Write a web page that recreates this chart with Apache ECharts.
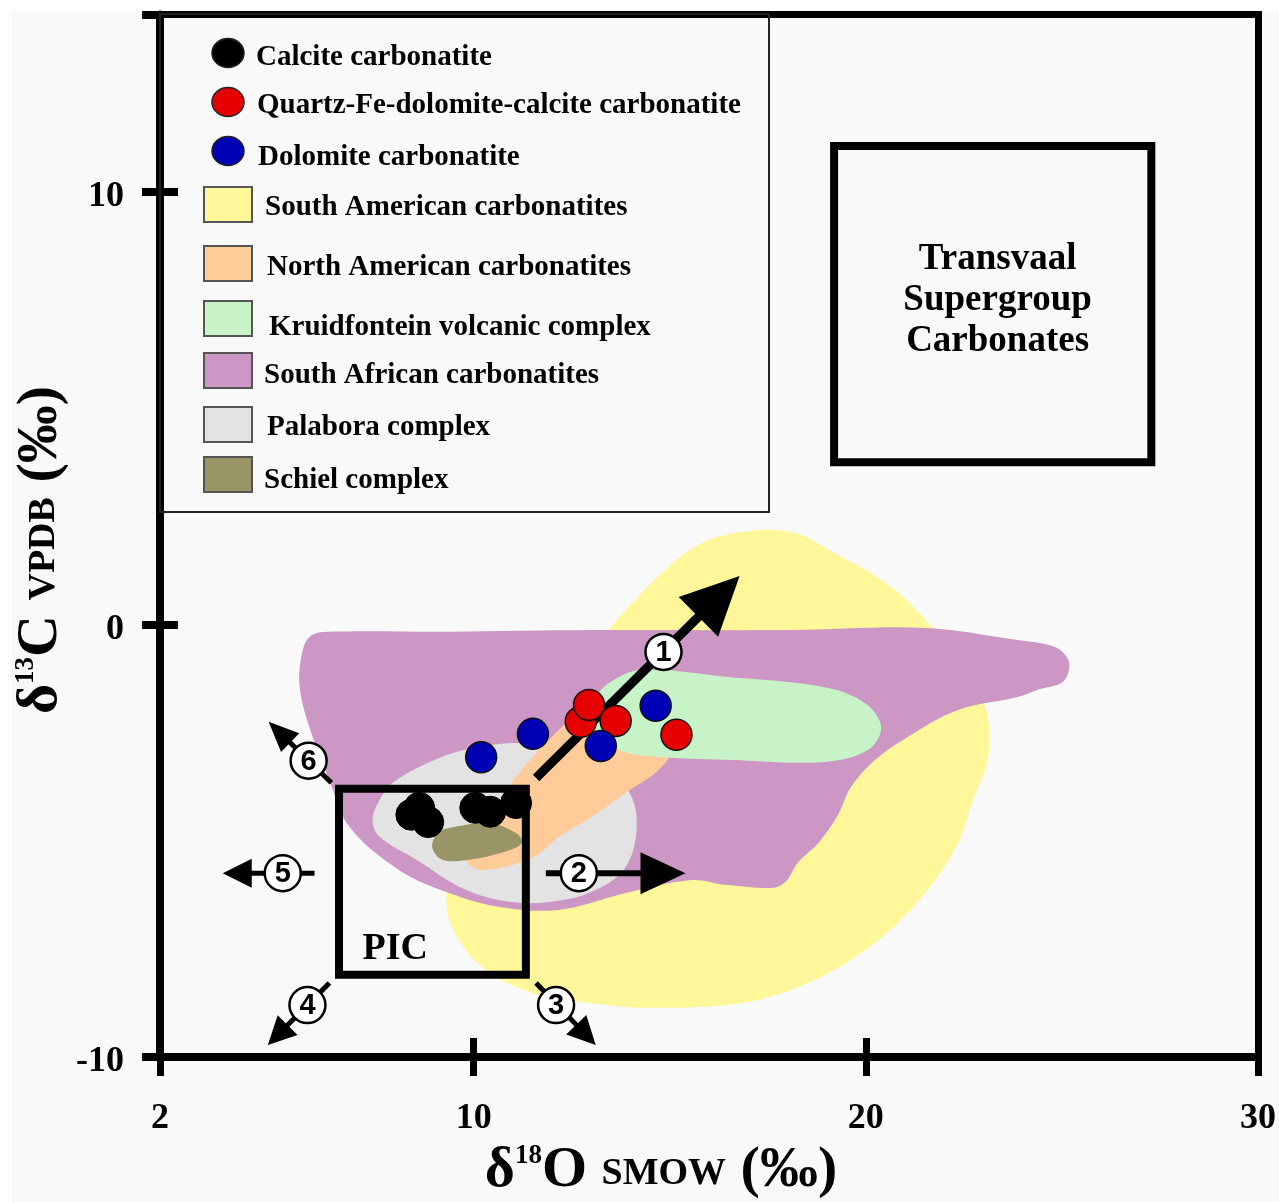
<!DOCTYPE html>
<html><head><meta charset="utf-8">
<script src="https://cdn.jsdelivr.net/npm/echarts@6/dist/echarts.min.js"></script>
<style>html,body{margin:0;padding:0;background:#fff;}#c{width:1279px;height:1202px;}</style>
</head><body><div id="c"></div>
<script>
// ---------- data ----------
const xTickValues = [2, 10, 20, 30];
const yTickValues = [-10, 0, 10];
const xRange = [2, 30];
const yRange = [-10, 14.1];

const calciteCarbonatite = [[8.41,-4.40],[8.61,-4.24],[8.84,-4.57],[10.04,-4.24],[10.42,-4.33],[11.08,-4.13]];
const quartzFeDolomiteCalcite = [[12.73,-2.25],[12.94,-1.86],[13.62,-2.23],[15.17,-2.55]];
const dolomiteCarbonatite = [[10.19,-3.07],[11.51,-2.53],[13.24,-2.81],[14.64,-1.88]];

const southAmerican = [[13.44,-0.13],[14.97,1.33],[15.99,1.95],[17.26,2.18],[18.28,2.09],[18.96,1.77],[20.64,0.87],[21.91,-0.29],[22.73,-1.28],[23.11,-2.14],[23.11,-3.13],[22.73,-4.06],[22.35,-5.05],[21.51,-6.21],[20.24,-7.36],[18.53,-8.29],[16.83,-8.75],[14.46,-8.86],[12.94,-8.75],[11.49,-8.52],[10.21,-7.92],[9.45,-7.00],[9.30,-6.21],[9.50,-5.44],[10.65,-3.83],[12.17,-1.75]];
const southAfrican = [[5.81,-0.29],[6.25,-0.17],[9.38,-0.17],[13.01,-0.13],[18.10,-0.13],[21.51,-0.08],[23.87,-0.36],[24.76,-0.50],[25.09,-0.71],[25.19,-0.98],[25.02,-1.33],[24.38,-1.51],[23.87,-1.68],[22.35,-1.98],[21.07,-2.60],[20.24,-3.13],[19.62,-3.76],[19.29,-4.40],[18.79,-5.05],[18.28,-5.49],[17.95,-5.95],[17.64,-6.09],[16.42,-6.02],[15.56,-5.91],[13.88,-6.21],[12.17,-6.60],[10.65,-6.53],[9.38,-6.21],[8.10,-5.68],[6.83,-4.68],[6.32,-3.60],[5.81,-2.37],[5.56,-1.44],[5.61,-0.71]];
const kruidfontein = [[13.44,-1.36],[14.28,-1.05],[16.42,-1.21],[18.96,-1.45],[19.98,-1.82],[20.39,-2.37],[20.06,-2.90],[18.96,-3.18],[16.42,-3.13],[14.72,-3.06],[13.70,-2.90],[12.94,-2.21],[13.06,-1.75]];
const northAmerican = [[9.81,-5.44],[10.14,-4.87],[10.82,-3.83],[11.99,-2.60],[12.94,-1.86],[13.95,-1.40],[14.72,-1.28],[15.30,-1.75],[15.22,-2.67],[14.72,-3.36],[13.88,-3.89],[13.01,-4.45],[12.17,-4.91],[11.49,-5.40],[10.21,-5.68]];
const palabora = [[7.42,-4.52],[7.60,-4.06],[7.93,-3.66],[9.20,-3.06],[10.47,-2.78],[11.66,-2.78],[12.94,-3.13],[13.83,-3.71],[14.13,-4.29],[14.10,-5.10],[13.80,-5.70],[13.20,-6.10],[12.35,-6.36],[11.08,-6.43],[9.81,-6.14],[8.54,-5.44],[7.60,-4.91]];
const schiel = [[8.94,-5.14],[9.12,-4.80],[9.63,-4.66],[10.39,-4.59],[11.08,-4.82],[11.23,-5.05],[10.77,-5.26],[9.88,-5.44],[9.20,-5.44]];

const picBox = [[6.565,-3.80],[11.33,-8.10]];
const transvaalBox = [[19.19,11.06],[27.28,3.75]];
const picLabelAt = [8.0,-7.50];
const transvaalLabelAt = [23.36,7.48];

const trendLabels = ['1','2','3','4','5','6'];
const trendStart = [[11.59,-3.55],[11.84,-5.75],[11.59,-8.29],[6.32,-8.29],[5.94,-5.75],[6.37,-3.66]];
const trendMark = [[14.84,-0.636],[12.68,-5.75],[12.10,-8.80],[5.76,-8.80],[5.13,-5.75],[5.79,-3.15]];
const trendTip = [[16.78,1.12],[15.40,-5.75],[13.11,-9.72],[4.75,-9.72],[3.60,-5.75],[4.77,-2.25]];

// ---------- styles ----------
const SERIF = '"Liberation Serif","Times New Roman",serif';
const SANS = '"Liberation Sans",Arial,sans-serif';
const headLen = [58,45,28,28,29,30];
const headHalf = [28,21,14,14,14.5,13];
const shaftW = [9,6,5,5,5,5];

function regionSeries(name, pts, color) {
  return {
    type: 'custom', name: name, silent: true, data: [pts[0]],
    renderItem: function (params, api) {
      return { type: 'polygon', shape: { points: pts.map(function (p) { return api.coord(p); }), smooth: 0.35 },
        style: { fill: color, stroke: null } };
    }
  };
}
function boxSeries(name, box, label, at, font, lh) {
  return {
    type: 'custom', name: name, silent: true, data: [box[0]],
    renderItem: function (params, api) {
      const a = api.coord(box[0]), b = api.coord(box[1]), c = api.coord(at);
      return { type: 'group', children: [
        { type: 'rect', shape: { x: Math.min(a[0],b[0]), y: Math.min(a[1],b[1]), width: Math.abs(b[0]-a[0]), height: Math.abs(b[1]-a[1]) },
          style: { fill: 'none', stroke: '#000', lineWidth: 8 } },
        { type: 'text', style: { text: label, x: c[0], y: c[1], align: 'center', verticalAlign: 'middle', textAlign: 'center', textVerticalAlign: 'middle', font: font, lineHeight: lh, fill: '#000' } }
      ] };
    }
  };
}

const scatterBase = { type: 'scatter', symbol: 'circle', symbolSize: 31, silent: true };

const option = {
  animation: false,
  backgroundColor: '#f9f9f9',
  grid: { left: 160, right: 18, top: 14.5, bottom: 145 },
  xAxis: [
    { type: 'value', min: xRange[0], max: xRange[1], position: 'bottom',
      axisLine: { show: true, onZero: false, lineStyle: { color: '#000', width: 8 } },
      axisTick: { show: true, customValues: xTickValues, length: 19, lineStyle: { color: '#000', width: 7 } },
      axisLabel: { customValues: xTickValues, color: '#000', fontSize: 36, fontWeight: 'bold', fontFamily: SERIF, margin: 44 },
      splitLine: { show: false } },
    { type: 'value', min: xRange[0], max: xRange[1], position: 'bottom',
      axisLine: { show: false, onZero: false },
      axisTick: { show: true, inside: true, customValues: [10, 20], length: 19, lineStyle: { color: '#000', width: 7 } },
      axisLabel: { show: false }, splitLine: { show: false } },
    { type: 'value', min: xRange[0], max: xRange[1], position: 'top',
      axisLine: { show: true, onZero: false, lineStyle: { color: '#000', width: 7, cap: 'square' } },
      axisTick: { show: false }, axisLabel: { show: false }, splitLine: { show: false } }
  ],
  yAxis: [
    { type: 'value', min: yRange[0], max: yRange[1], position: 'left',
      axisLine: { show: true, onZero: false, lineStyle: { color: '#000', width: 8 } },
      axisTick: { show: true, customValues: [-10, 0, 10, 14.1], length: 18, lineStyle: { color: '#000', width: 8 } },
      axisLabel: { customValues: yTickValues, margin: 36, formatter: '{v|{value}}',
        rich: { v: { color: '#000', fontSize: 36, fontWeight: 'bold', fontFamily: SERIF, padding: [10, 0, 0, 0] } } },
      splitLine: { show: false } },
    { type: 'value', min: yRange[0], max: yRange[1], position: 'left',
      axisLine: { show: false, onZero: false },
      axisTick: { show: true, inside: true, customValues: [0, 10], length: 18, lineStyle: { color: '#000', width: 8 } },
      axisLabel: { show: false }, splitLine: { show: false } },
    { type: 'value', min: yRange[0], max: yRange[1], position: 'right',
      axisLine: { show: true, onZero: false, lineStyle: { color: '#000', width: 7, cap: 'square' } },
      axisTick: { show: false }, axisLabel: { show: false }, splitLine: { show: false } }
  ],
  series: [
    regionSeries('South American carbonatites', southAmerican, '#fff799'),
    regionSeries('South African carbonatites', southAfrican, '#cc97c4'),
    regionSeries('Palabora complex', palabora, '#e3e3e3'),
    regionSeries('North American carbonatites', northAmerican, '#ffcc99'),
    regionSeries('Kruidfontein volcanic complex', kruidfontein, '#c8f3c8'),
    regionSeries('Schiel complex', schiel, '#9a9566'),
    boxSeries('PIC', picBox, 'PIC', picLabelAt, 'bold 38px ' + SERIF, 40),
    boxSeries('Transvaal Supergroup Carbonates', transvaalBox, 'Transvaal\nSupergroup\nCarbonates', transvaalLabelAt, 'bold 37px ' + SERIF, 41),
    {
      type: 'custom', name: 'Trends', silent: true,
      data: trendMark.map(function (m, i) { return [m[0], m[1], i]; }),
      renderItem: function (params, api) {
        const i = params.dataIndex;
        const s = api.coord(trendStart[i]), m = api.coord(trendMark[i]), t = api.coord(trendTip[i]);
        const dx = t[0] - s[0], dy = t[1] - s[1], L = Math.hypot(dx, dy);
        const ux = dx / L, uy = dy / L, px = -uy, py = ux;
        const bx = t[0] - ux * headLen[i], by = t[1] - uy * headLen[i];
        return { type: 'group', children: [
          { type: 'line', shape: { x1: s[0], y1: s[1], x2: bx + ux * 3, y2: by + uy * 3 }, style: { stroke: '#000', lineWidth: shaftW[i] } },
          { type: 'polygon', shape: { points: [[t[0], t[1]], [bx + px * headHalf[i], by + py * headHalf[i]], [bx - px * headHalf[i], by - py * headHalf[i]]] }, style: { fill: '#000' } },
          { type: 'circle', shape: { cx: m[0], cy: m[1], r: 18 }, style: { fill: '#fff', stroke: '#000', lineWidth: 2.5 } },
          { type: 'text', style: { text: trendLabels[i], x: m[0], y: m[1] + 1, align: 'center', verticalAlign: 'middle', textAlign: 'center', textVerticalAlign: 'middle', font: 'bold 29px ' + SANS, fill: '#000' } }
        ] };
      }
    },
    Object.assign({ name: 'Calcite carbonatite', data: calciteCarbonatite, itemStyle: { color: '#000', borderColor: '#000', borderWidth: 1, opacity: 1 } }, scatterBase),
    Object.assign({ name: 'Quartz-Fe-dolomite-calcite carbonatite', data: quartzFeDolomiteCalcite, itemStyle: { color: '#e60000', borderColor: '#111', borderWidth: 1.5, opacity: 1 } }, scatterBase),
    Object.assign({ name: 'Dolomite carbonatite', data: dolomiteCarbonatite, itemStyle: { color: '#0000b4', borderColor: '#111', borderWidth: 1.5, opacity: 1 } }, scatterBase)
  ],
  graphic: []
};

// ---------- legend & titles (graphic) ----------
const g = option.graphic;
g.push({ type: 'rect', z: -10, shape: { x: 0, y: 0, width: 12, height: 1202 }, style: { fill: '#fff' }, silent: true });
g.push({ type: 'rect', z: -10, shape: { x: 0, y: 0, width: 1279, height: 11 }, style: { fill: '#fff' }, silent: true });
g.push({ type: 'rect', z: 1, shape: { x: 160, y: 14, width: 609, height: 498 }, style: { fill: 'none', stroke: '#222', lineWidth: 2 }, silent: true });

const legendDots = [
  { name: 'Calcite carbonatite', color: '#000', cy: 53, tx: 256, ty: 58 },
  { name: 'Quartz-Fe-dolomite-calcite carbonatite', color: '#e60000', cy: 102, tx: 257, ty: 106 },
  { name: 'Dolomite carbonatite', color: '#0000b4', cy: 151, tx: 258, ty: 158 }
];
const legendBoxes = [
  { name: 'South American carbonatites', color: '#fff799', y: 187, tx: 265, ty: 208 },
  { name: 'North American carbonatites', color: '#ffcc99', y: 246, tx: 267, ty: 268 },
  { name: 'Kruidfontein volcanic complex', color: '#c8f3c8', y: 301, tx: 269, ty: 328 },
  { name: 'South African carbonatites', color: '#cc97c4', y: 353, tx: 264, ty: 376 },
  { name: 'Palabora complex', color: '#e3e3e3', y: 407, tx: 267, ty: 428 },
  { name: 'Schiel complex', color: '#9a9566', y: 457, tx: 264, ty: 481 }
];
const legendFont = 'bold 29px ' + SERIF;
legendDots.forEach(function (d) {
  g.push({ type: 'ellipse', z: 5, shape: { cx: 228, cy: d.cy, rx: 16, ry: 14.5 }, style: { fill: d.color, stroke: '#222', lineWidth: 1.5 }, silent: true });
  g.push({ type: 'text', z: 5, x: d.tx, y: d.ty, style: { text: d.name, x: 0, y: 0, font: legendFont, fill: '#000', align: 'left', verticalAlign: 'middle', textAlign: 'left', textVerticalAlign: 'middle' }, silent: true });
});
legendBoxes.forEach(function (d) {
  g.push({ type: 'rect', z: 5, shape: { x: 204, y: d.y, width: 48, height: 35 }, style: { fill: d.color, stroke: '#555', lineWidth: 2 }, silent: true });
  g.push({ type: 'text', z: 5, x: d.tx, y: d.ty, style: { text: d.name, x: 0, y: 0, font: legendFont, fill: '#000', align: 'left', verticalAlign: 'middle', textAlign: 'left', textVerticalAlign: 'middle' }, silent: true });
});

const titleRich = {
  d: { fontFamily: SERIF, fontWeight: 'bold', fontSize: 58, lineHeight: 58, color: '#000' },
  s: { fontFamily: SERIF, fontWeight: 'bold', fontSize: 27, lineHeight: 24, verticalAlign: 'top', color: '#000', padding: [1, 0, 0, 0] },
  m: { fontFamily: SERIF, fontWeight: 'bold', fontSize: 38, lineHeight: 44, verticalAlign: 'bottom', color: '#000', padding: [0, 0, 7, 0] }
};
g.push({ type: 'text', z: 5, x: 661, y: 1171, silent: true,
  style: { text: '{d|δ}{s|18}{d|O }{m|SMOW}{d| (‰)}', rich: titleRich, x: 0, y: 0, align: 'center', verticalAlign: 'middle', textAlign: 'center', textVerticalAlign: 'middle' } });
g.push({ type: 'text', z: 5, x: 41, y: 550, rotation: Math.PI / 2, silent: true,
  style: { text: '{d|δ}{s|13}{d|C }{m|VPDB}{d| (‰)}', rich: titleRich, x: 0, y: 0, align: 'center', verticalAlign: 'middle', textAlign: 'center', textVerticalAlign: 'middle' } });

const chart = echarts.init(document.getElementById('c'), null, { renderer: 'canvas' });
chart.setOption(option);
</script>
</body></html>
